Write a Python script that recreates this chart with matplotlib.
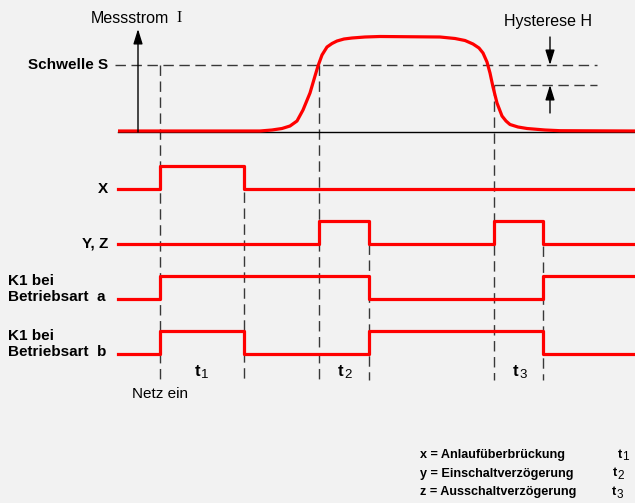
import matplotlib.pyplot as plt

plt.rcParams['font.family'] = ['Liberation Sans', 'DejaVu Sans']

# time axis (same units as the drawing width)
t_start, t_end = 118, 635
t_on = 160        # Netz ein
t1_end = 244
t_up = 319        # current crosses Schwelle S
t2_end = 369
t_down = 494      # current falls below S - H
t3_end = 543

# measured current (vertical level, drawing units, down = larger)
cur_t = [118, 260, 272, 282, 290, 297, 303, 310, 315, 318, 322, 327, 332,
         337, 344, 352, 365, 380, 440, 455, 465, 473, 479, 483, 487, 490,
         493, 497, 502, 506, 510, 518, 527, 545, 560, 635]
cur_y = [131, 131, 130, 128.5, 126, 121, 110, 93, 76, 66, 55, 47, 43.5,
         41, 39, 38, 37, 36.5, 37, 38.5, 40.5, 44, 48, 53, 62, 73,
         87, 103, 116, 121, 124.5, 127, 128.5, 130, 130.7, 131]
level_s = 65
level_sh = 85

# switching signals: edge times and states
x_times = [t_start, t_on, t1_end, t_end]
x_states = [0, 1, 0, 0]
yz_times = [t_start, t_up, t2_end, t_down, t3_end, t_end]
yz_states = [0, 1, 0, 1, 0, 0]
k1a_times = [t_start, t_on, t2_end, t3_end, t_end]
k1a_states = [0, 1, 0, 1, 1]
k1b_times = [t_start, t_on, t1_end, t2_end, t3_end, t_end]
k1b_states = [0, 1, 0, 1, 0, 0]

rows = [
    ("X", x_times, x_states, 189),
    ("Y, Z", yz_times, yz_states, 244),
    ("K1 bei\nBetriebsart  a", k1a_times, k1a_states, 299),
    ("K1 bei\nBetriebsart  b", k1b_times, k1b_states, 354),
]
step_h = 23

legend_text = [
    "x = Anlaufüberbrückung",
    "y = Einschaltverzögerung",
    "z = Ausschaltverzögerung",
]
legend_sub = ["1", "2", "3"]
legend_t_x = [618, 613, 612]

red = '#ff0000'
dash_col = '#383838'
dash = (0, (7.5, 4))

fig = plt.figure(figsize=(6.35, 5.03), dpi=100)
fig.patch.set_facecolor('#f2f2f2')
ax = fig.add_axes([0, 0, 1, 1])
ax.set_xlim(0, 635)
ax.set_ylim(503, 0)
ax.axis('off')

# dashed guide lines
ax.plot([115, 597], [level_s, level_s], color=dash_col, lw=1, ls=dash)
ax.plot([t_down, 597], [level_sh, level_sh], color=dash_col, lw=1, ls=dash)
for t, top in [(t_on, level_s), (t1_end, 192), (t_up, level_s),
               (t2_end, 244), (t_down, level_sh), (t3_end, 246)]:
    ax.plot([t, t], [top, 380], color=dash_col, lw=1, ls=dash)

# current axis
ax.plot([t_start, t_end], [132, 132], color='black', lw=1)
ax.annotate("", xy=(138, 29), xytext=(138, 132),
            arrowprops=dict(arrowstyle='-|>,head_length=0.9,head_width=0.28',
                            color='black', lw=1, shrinkA=0, shrinkB=0))
ax.plot(cur_t, cur_y, color=red, lw=2.3, solid_capstyle='butt')

# hysteresis arrows
ax.annotate("", xy=(550, level_s), xytext=(550, 37),
            arrowprops=dict(arrowstyle='-|>,head_length=0.9,head_width=0.28',
                            color='black', lw=1, shrinkA=0, shrinkB=0))
ax.annotate("", xy=(550, level_sh), xytext=(550, 113),
            arrowprops=dict(arrowstyle='-|>,head_length=0.9,head_width=0.28',
                            color='black', lw=1, shrinkA=0, shrinkB=0))

# signals
for label, times, states, base in rows:
    ys = [base - step_h * s for s in states]
    ax.step(times, ys, where='post', color=red, lw=2.3)
    if "\n" in label:
        ax.text(8, base - 10, label, ha='left', va='center', fontsize=11,
                fontweight='bold', linespacing=1.25)
    else:
        ax.text(108, base, label, ha='right', va='center', fontsize=11,
                fontweight='bold')

# texts
ax.text(108, level_s, "Schwelle S", ha='right', va='center', fontsize=11,
        fontweight='bold')
ax.text(91, 18, "Messstrom", ha='left', va='center', fontsize=11.5)
ax.text(176, 18, "I", ha='left', va='center', fontsize=11.5,
        family='Liberation Serif')
ax.text(548, 21, "Hysterese H", ha='center', va='center', fontsize=11.5)
ax.text(160, 394, "Netz ein", ha='center', va='center', fontsize=11)
for sub, xc in [("1", 195), ("2", 338), ("3", 513)]:
    ax.text(xc, 371, "t", ha='left', va='center', fontsize=12,
            fontweight='bold')
    ax.text(xc + 6, 375, sub, ha='left', va='center', fontsize=9.5)

for i, line in enumerate(legend_text):
    y = 455 + 18.5 * i
    ax.text(420, y, line, ha='left', va='center', fontsize=9.1,
            fontweight='bold')
    ax.text(legend_t_x[i], y, "t", ha='left', va='center', fontsize=9.1,
            fontweight='bold')
    ax.text(legend_t_x[i] + 4.5, y + 2.5, legend_sub[i], ha='left',
            va='center', fontsize=8.5)

fig.savefig("out.png", dpi=100, facecolor=fig.get_facecolor())
